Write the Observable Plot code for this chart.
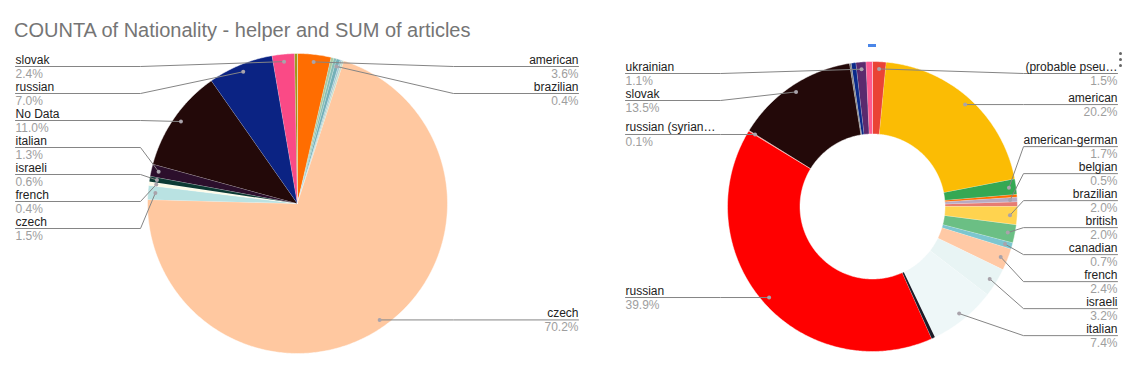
<!DOCTYPE html>
<html>
<head>
<meta charset="utf-8">
<script src="https://cdn.jsdelivr.net/npm/d3@7"></script>
<script src="https://cdn.jsdelivr.net/npm/@observablehq/plot@0.6"></script>
<style>
  body { margin: 0; background: #fff; }
  #wrap { position: relative; width: 1130px; height: 383px; overflow: hidden; font-family: "Liberation Sans", Arial, sans-serif; }
  #leftBox { position: absolute; left: 0; top: 0; width: 595px; }
  #title { height: 25px; padding: 20px 0 0 14px; font-size: 20px; line-height: 20px; color: #757575; white-space: nowrap; }
  #rightBox { position: absolute; left: 595px; top: 0; width: 535px; }
  .deco { position: absolute; }
</style>
</head>
<body>
<div id="wrap">
  <div id="leftBox">
    <div id="title">COUNTA of Nationality - helper and SUM of articles</div>
    <div id="leftChart"></div>
  </div>
  <div id="rightBox"></div>
  <div class="deco" style="left:868px;top:44px;width:8px;height:3px;background:#4a86e8"></div>
  <div class="deco" style="left:1119px;top:52px;width:3px;height:3px;border-radius:50%;background:#666"></div>
  <div class="deco" style="left:1119px;top:58px;width:3px;height:3px;border-radius:50%;background:#666"></div>
  <div class="deco" style="left:1119px;top:64px;width:3px;height:3px;border-radius:50%;background:#666"></div>
</div>
<script>
// ---------- Left pie data (clockwise from 12 o'clock) ----------
const leftNames  = ["american", "", "", "brazilian", "", "", "czech", "czech", "french", "israeli", "italian", "No Data", "russian", "slovak", ""];
const leftValues = [3.6, 0.3, 0.3, 0.4, 0.2, 0.2, 70.2, 1.5, 0.4, 0.6, 1.3, 11.0, 7.0, 2.4, 0.3];
const leftColors = ["#ff6d01", "#a9c9a2", "#86bdb6", "#74b0b8", "#a3c8d4", "#c6dccb", "#ffc8a0", "#b9e2e2", "#fcfbe8", "#0c3a33", "#2c0f2c", "#230909", "#0b2383", "#fa4a86", "#9c9a1e"];

// ---------- Right donut data (clockwise from 12 o'clock) ----------
const rightNames  = ["(probable pseu\u2026", "american", "american-german", "", "belgian", "", "brazilian", "british", "canadian", "french", "israeli", "italian", "", "russian", "russian (syrian\u2026", "slovak", "", "", "ukrainian", ""];
const rightValues = [1.5, 20.2, 1.7, 0.3, 0.5, 0.5, 2.0, 2.0, 0.7, 2.4, 3.2, 7.4, 0.4, 39.9, 0.1, 13.5, 0.2, 0.5, 1.1, 0.7];
const rightColors = ["#ea4335", "#fbbc04", "#34a853", "#ff6d01", "#b7a9c2", "#e67c73", "#ffd34f", "#6bbf84", "#7cc6cf", "#ffc9a5", "#e8f4f4", "#eef7f8", "#1c1c28", "#ff0000", "#f28b82", "#230909", "#808080", "#0b2a8a", "#5b2a6e", "#ff5a8f"];

function pieChart({names, values, colors, W, H, cx, cy, r, inner, leftX, rightX, minLineY}) {
  const total = d3.sum(values);
  let acc = 0;
  const slices = values.map((v, i) => {
    const a0 = acc / total * 2 * Math.PI; acc += v;
    const a1 = acc / total * 2 * Math.PI;
    return {i, name: names[i], value: v, color: colors[i], a0, a1};
  });
  // slice outlines
  const poly = [];
  for (const s of slices) {
    const n = Math.max(2, Math.ceil((s.a1 - s.a0) / 0.01));
    for (let k = 0; k <= n; k++) {
      const a = s.a0 + (s.a1 - s.a0) * k / n;
      poly.push({key: s.i, color: s.color, x: Math.sin(a) * r, y: -Math.cos(a) * r});
    }
    if (inner > 0) {
      for (let k = n; k >= 0; k--) {
        const a = s.a0 + (s.a1 - s.a0) * k / n;
        poly.push({key: s.i, color: s.color, x: Math.sin(a) * inner, y: -Math.cos(a) * inner});
      }
    } else {
      poly.push({key: s.i, color: s.color, x: 0, y: 0});
    }
  }
  // labels
  const labeled = slices.filter(s => s.name).map(s => {
    const mid = (s.a0 + s.a1) / 2;
    return {...s, side: mid < Math.PI ? "right" : "left",
      dx: Math.sin(mid) * r * 0.95, dy: -Math.cos(mid) * r * 0.95,
      pct: (s.value).toFixed(1) + "%"};
  });
  const gap = 27;
  for (const side of ["left", "right"]) {
    const items = labeled.filter(d => d.side === side).sort((a, b) => a.dy - b.dy);
    const start = g => Math.max(minLineY, g.sum / g.items.length - (g.items.length - 1) * gap / 2);
    const stack = [];
    for (const d of items) {
      stack.push({items: [d], sum: d.dy});
      while (stack.length > 1) {
        const b = stack[stack.length - 1], a = stack[stack.length - 2];
        if (start(a) + a.items.length * gap > start(b)) {
          a.items.push(...b.items); a.sum += b.sum; stack.pop();
        } else break;
      }
    }
    for (const g of stack) {
      const s0 = start(g);
      g.items.forEach((d, k) => { d.lineY = s0 + k * gap; });
    }
  }
  const leaders = [];
  for (const d of labeled) {
    const elbowX = d.side === "right" ? r + 6 : -(r + 7);
    const endX = d.side === "right" ? rightX : leftX;
    leaders.push({key: d.i, x: d.dx, y: d.dy});
    leaders.push({key: d.i, x: elbowX, y: d.lineY});
    leaders.push({key: d.i, x: endX, y: d.lineY});
    d.labelX = endX;
  }
  const L = labeled.filter(d => d.side === "left");
  const R = labeled.filter(d => d.side === "right");
  const textMarks = [];
  for (const [set, anchor] of [[L, "start"], [R, "end"]]) {
    textMarks.push(Plot.text(set, {x: "labelX", y: "lineY", text: "name", textAnchor: anchor,
      lineAnchor: "bottom", dy: -3, fill: "#222222", fontSize: 12}));
    textMarks.push(Plot.text(set, {x: "labelX", y: "lineY", text: "pct", textAnchor: anchor,
      lineAnchor: "top", dy: 3, fill: "#9e9e9e", fontSize: 12}));
  }
  return Plot.plot({
    width: W, height: H, margin: 0,
    style: {fontFamily: "'Liberation Sans', Arial, sans-serif", fontSize: "12px", background: "transparent", overflow: "visible"},
    x: {domain: [-cx, W - cx], range: [0, W], axis: null},
    y: {domain: [-cy, H - cy], range: [0, H], axis: null},
    color: {type: "identity"},
    marks: [
      Plot.line(poly, {x: "x", y: "y", z: "key", fill: "color", stroke: "#ffffff", strokeWidth: 0.6, strokeOpacity: 0.8}),
      Plot.line(leaders, {x: "x", y: "y", z: "key", stroke: "#858585", strokeWidth: 1}),
      Plot.dot(labeled, {x: "dx", y: "dy", r: 2, fill: "#a9a3ab", stroke: "none"}),
      ...textMarks
    ]
  });
}

document.getElementById("leftChart").append(pieChart({
  names: leftNames, values: leftValues, colors: leftColors,
  W: 595, H: 338, cx: 297, cy: 158, r: 150, inner: 0,
  leftX: -282, rightX: 281, minLineY: -137
}));
document.getElementById("rightBox").append(pieChart({
  names: rightNames, values: rightValues, colors: rightColors,
  W: 535, H: 383, cx: 277, cy: 206, r: 145, inner: 72.5,
  leftX: -247, rightX: 245, minLineY: -133
}));
</script>
</body>
</html>
